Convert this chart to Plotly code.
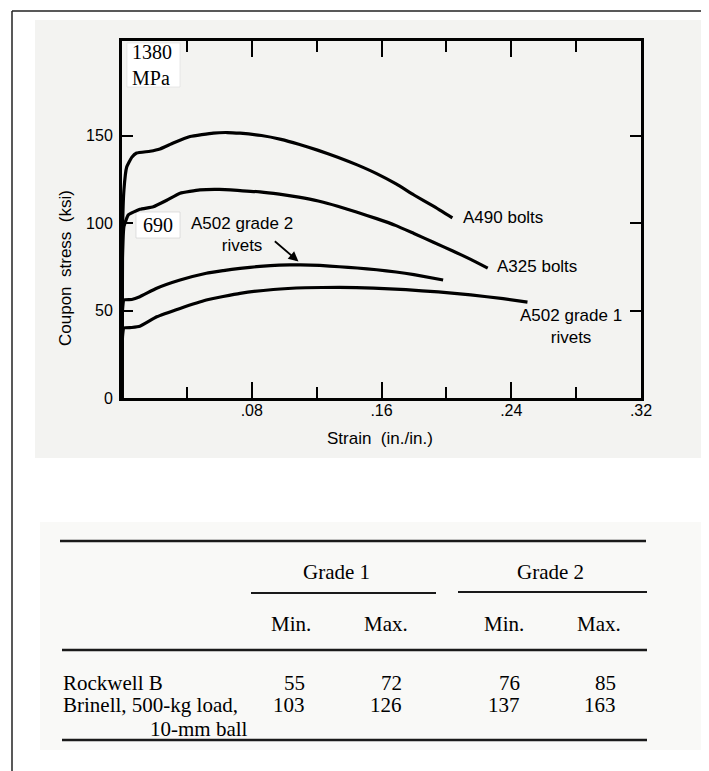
import plotly.graph_objects as go

# ---------------- data ----------------
a490_x = [0, 0.0003, 0.0012, 0.0029, 0.006, 0.009, 0.0173, 0.0234, 0.0316, 0.042, 0.0563, 0.065,
          0.0728, 0.086, 0.098, 0.109, 0.121, 0.133, 0.145, 0.157, 0.169, 0.180, 0.192, 0.2037]
a490_y = [0, 95, 119, 132, 137.5, 140, 141, 142.3, 145.7, 149.4, 151.4, 151.7,
          151.3, 150, 147.8, 145, 141.5, 137.6, 133.2, 128.2, 122.3, 116, 109.6, 102.9]

a325_x = [0, 0.0003, 0.0012, 0.0039, 0.011, 0.0193, 0.0276, 0.0358, 0.048, 0.06, 0.0728, 0.085,
          0.097, 0.109, 0.121, 0.133, 0.145, 0.157, 0.169, 0.180, 0.192, 0.204, 0.215, 0.2255]
a325_y = [0, 80, 98, 104.6, 107.8, 109.3, 113, 117, 118.9, 119.2, 118.5, 117.8,
          116.5, 114.8, 112.6, 109.6, 106.1, 102.5, 98.5, 94, 89, 84, 79.2, 74.2]

a502g2_x = [0, 0.0003, 0.0012, 0.006, 0.011, 0.0214, 0.0358, 0.052, 0.0625, 0.0728, 0.085,
            0.097, 0.11, 0.122, 0.134, 0.145, 0.157, 0.169, 0.180, 0.198]
a502g2_y = [0, 50, 56, 56.3, 57.9, 62.7, 67.4, 71.3, 72.8, 74.1, 75.2,
            75.9, 76.1, 75.8, 75.0, 74.3, 73.3, 72.0, 70.5, 67.4]

a502g1_x = [0, 0.0003, 0.0012, 0.006, 0.011, 0.0214, 0.0358, 0.052, 0.0728, 0.0933, 0.113,
            0.134, 0.155, 0.175, 0.195, 0.215, 0.235, 0.25]
a502g1_y = [0, 35, 40, 40.3, 41, 46.4, 51.2, 56, 59.8, 62, 63,
            63.2, 62.8, 61.9, 60.6, 58.9, 56.8, 54.8]

x_tickvals = [0.08, 0.16, 0.24, 0.32]
x_ticktext = [".08", ".16", ".24", ".32"]
x_minorvals = [0.04, 0.12, 0.20, 0.28]
y_tickvals = [0, 50, 100, 150]

# table
grade_headers = ["Grade 1", "Grade 2"]
sub_headers = ["Min.", "Max.", "Min.", "Max."]
row_labels = ["Rockwell B", "Brinell, 500-kg load,"]
row_label_cont = "10-mm ball"
rockwell_vals = ["55", "72", "76", "85"]
brinell_vals = ["103", "126", "137", "163"]

# ---------------- layout helpers (page pixel -> paper) ----------------
OFF = 8                      # page body margin of the browser
W, H = 709 - OFF, 771 - OFF
PL, PR, PT, PB = 122, 641, 41, 398   # plot area in page pixels


def px(x):
    return (x - PL) / (PR - PL)


def py(y):
    return (PB - y) / (PB - PT)


SANS = "Liberation Sans, Arial, sans-serif"
SERIF = "Liberation Serif, Times New Roman, serif"
NB = "\u00a0"

fig = go.Figure()
for xs, ys in [(a490_x, a490_y), (a325_x, a325_y), (a502g2_x, a502g2_y), (a502g1_x, a502g1_y)]:
    fig.add_trace(go.Scatter(x=xs, y=ys, mode="lines",
                             line=dict(color="black", width=3.2, shape="spline", smoothing=0.4),
                             showlegend=False, hoverinfo="skip"))

shapes = []
# scanned background patches
shapes.append(dict(type="rect", xref="paper", yref="paper", x0=px(35), x1=px(712), y0=py(20), y1=py(458),
                   fillcolor="#f3f3f1", line=dict(width=0), layer="below"))
shapes.append(dict(type="rect", xref="paper", yref="paper", x0=px(40), x1=px(712), y0=py(522), y1=py(750),
                   fillcolor="#f9f9f7", line=dict(width=0), layer="below"))
# pasted label boxes
shapes.append(dict(type="rect", xref="paper", yref="paper", x0=px(127), x1=px(180), y0=py(43), y1=py(87),
                   fillcolor="white", line=dict(width=0.6, color="#dcdcdc"), layer="below"))
shapes.append(dict(type="rect", xref="paper", yref="paper", x0=px(136), x1=px(180), y0=py(212), y1=py(238),
                   fillcolor="white", line=dict(width=0.6, color="#cfcfcf"), layer="below"))
# page frame
shapes.append(dict(type="line", xref="paper", yref="paper", x0=px(12), x1=px(712), y0=py(11), y1=py(11),
                   line=dict(color="#222", width=1.5)))
shapes.append(dict(type="line", xref="paper", yref="paper", x0=px(12), x1=px(12), y0=py(11), y1=py(775),
                   line=dict(color="#222", width=1.5)))
# table rules
for (x0, x1, yy, w) in [(60, 646, 541, 2.5), (251, 436, 593, 2), (458, 647, 592, 2),
                        (62, 647, 650, 2.5), (62, 647, 740, 2.5)]:
    shapes.append(dict(type="line", xref="paper", yref="paper", x0=px(x0), x1=px(x1), y0=py(yy), y1=py(yy),
                       line=dict(color="#1a1a1a", width=w)))

ann = []
# curve labels (data coordinates)
lab_font = dict(family=SANS, size=17, color="black")
ann.append(dict(x=0.209, y=103.4, xref="x", yref="y", text="A490" + NB + "bolts", showarrow=False,
                xanchor="left", yanchor="middle", font=lab_font))
ann.append(dict(x=0.230, y=75.4, xref="x", yref="y", text="A325" + NB + "bolts", showarrow=False,
                xanchor="left", yanchor="middle", font=lab_font))
ann.append(dict(x=0.2768, y=41.1, xref="x", yref="y", text="A502 grade 1<br>rivets", showarrow=False,
                xanchor="center", yanchor="middle", align="center", font=lab_font))
ann.append(dict(x=0.0737, y=93.7, xref="x", yref="y", text="A502 grade 2<br>rivets", showarrow=False,
                xanchor="center", yanchor="middle", align="center", font=lab_font))
ann.append(dict(x=0.1088, y=78.0, xref="x", yref="y", ax=0.0933, ay=90.3, axref="x", ayref="y",
                text="", showarrow=True, arrowhead=2, arrowsize=1.1, arrowwidth=1.8, arrowcolor="black"))
# MPa labels
ann.append(dict(x=px(130), y=py(65), xref="paper", yref="paper", text="1380<br>MPa", showarrow=False,
                xanchor="left", yanchor="middle", align="left",
                font=dict(family=SERIF, size=20, color="black")))
ann.append(dict(x=px(158), y=py(225), xref="paper", yref="paper", text="690", showarrow=False,
                xanchor="center", yanchor="middle", font=dict(family=SERIF, size=20, color="black")))
# axis titles
ann.append(dict(x=px(65), y=py(268), xref="paper", yref="paper",
                text="Coupon" + NB + " stress" + NB + " (ksi)", showarrow=False, textangle=-90,
                xanchor="center", yanchor="middle", font=dict(family=SANS, size=17, color="black")))
ann.append(dict(x=px(380), y=py(438), xref="paper", yref="paper",
                text="Strain" + NB + " (in./in.)", showarrow=False,
                xanchor="center", yanchor="middle", font=dict(family=SANS, size=17, color="black")))

# table text
tfont = dict(family=SERIF, size=21, color="black")
for txt, cx in zip(grade_headers, [336, 550]):
    ann.append(dict(x=px(cx), y=py(572), xref="paper", yref="paper", text=txt, showarrow=False,
                    xanchor="center", yanchor="middle", font=tfont, borderpad=0))
for txt, cx in zip(sub_headers, [291, 385.5, 503.5, 599]):
    ann.append(dict(x=px(cx), y=py(624), xref="paper", yref="paper", text=txt, showarrow=False,
                    xanchor="center", yanchor="middle", font=tfont, borderpad=0))
for txt, yy in zip(row_labels, [682.5, 705]):
    ann.append(dict(x=px(62), y=py(yy), xref="paper", yref="paper", text=txt, showarrow=False,
                    xanchor="left", yanchor="middle", font=tfont, borderpad=0))
ann.append(dict(x=px(249), y=py(728.5), xref="paper", yref="paper", text=row_label_cont, showarrow=False,
                xanchor="right", yanchor="middle", font=tfont, borderpad=0))
col_right = [306, 403, 521, 617]
for vals, yy in [(rockwell_vals, 682.5), (brinell_vals, 705)]:
    for v, rx in zip(vals, col_right):
        ann.append(dict(x=px(rx), y=py(yy), xref="paper", yref="paper", text=v, showarrow=False,
                        xanchor="right", yanchor="middle", font=tfont, borderpad=0))

fig.update_layout(
    width=W, height=H,
    margin=dict(l=PL - OFF, r=709 - PR, t=PT - OFF, b=771 - PB, pad=0),
    paper_bgcolor="white", plot_bgcolor="rgba(0,0,0,0)",
    shapes=shapes, annotations=ann, showlegend=False,
    xaxis=dict(range=[0, 0.32], showline=True, linewidth=3, linecolor="black", mirror="ticks",
               ticks="inside", ticklen=16, tickwidth=2, tickcolor="black",
               tickvals=x_tickvals, ticktext=x_ticktext, ticklabelstandoff=-4,
               tickfont=dict(family=SANS, size=16, color="black"),
               minor=dict(tickvals=x_minorvals, ticks="inside", ticklen=11, tickwidth=2, tickcolor="black"),
               showgrid=False, zeroline=False),
    yaxis=dict(range=[0, 204], showline=True, linewidth=3, linecolor="black", mirror="ticks",
               ticks="inside", ticklen=11, tickwidth=2, tickcolor="black",
               tickvals=y_tickvals, ticklabelstandoff=3,
               tickfont=dict(family=SANS, size=16, color="black"),
               showgrid=False, zeroline=False),
)

fig.write_html("out.html")
